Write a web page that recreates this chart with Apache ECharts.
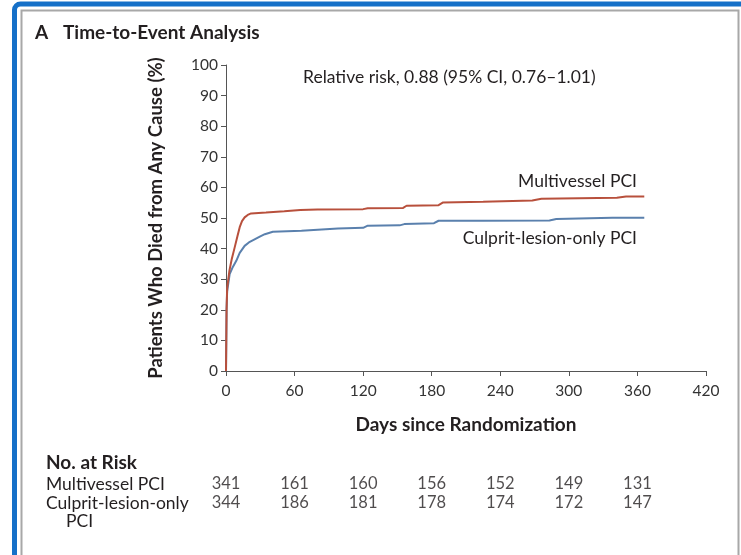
<!DOCTYPE html>
<html>
<head>
<meta charset="utf-8">
<style>
  html, body { margin: 0; padding: 0; background: #ffffff; }
  #chart { width: 741px; height: 555px; }
</style>
<script src="https://cdn.jsdelivr.net/npm/echarts@6/dist/echarts.min.js"></script>
</head>
<body>
<div id="chart"></div>
<script>
// Cumulative mortality, [day, percent]
const multivesselCurve = [
  [0, 0], [0.5, 20], [1, 27], [3, 32.8], [5, 36.5], [7.6, 40.4], [10, 44], [12, 47],
  [14, 49], [16.3, 50.2], [19, 51], [22, 51.5], [35, 51.8], [51, 52.2], [65, 52.6],
  [80, 52.8], [120, 52.9], [124, 53.2], [155, 53.3], [158, 54], [186, 54.2], [190, 55.1],
  [225, 55.3], [268, 55.7], [276, 56.3], [342, 56.6], [350, 57], [366, 57]
];
const culpritCurve = [
  [0, 0], [0.5, 20], [1, 26], [3.2, 31.7], [6, 34], [9, 36], [12, 38.6], [16.3, 40.9],
  [20, 42], [25, 43], [30, 44], [34, 44.7], [41, 45.5], [66, 45.8], [98, 46.6],
  [120, 46.8], [124, 47.5], [152, 47.6], [156, 48], [182, 48.3], [186, 49.1],
  [225, 49.1], [283, 49.2], [289, 49.7], [338, 50.1], [366, 50.1]
];

// Number at risk table
const riskDays = [0, 60, 120, 180, 240, 300, 360];
const riskMultivessel = [341, 161, 160, 156, 152, 149, 131];
const riskCulprit = [344, 186, 181, 178, 174, 172, 147];
const riskRows = ['Multivessel PCI', 'Culprit-lesion-only PCI'];

const FONT = 'Lato, "Noto Sans", sans-serif';
const INK = '#231f20';

const riskData = [];
riskDays.forEach((d, i) => {
  riskData.push([d, 0, riskMultivessel[i]]);
  riskData.push([d, 1, riskCulprit[i]]);
});

const chart = echarts.init(document.getElementById('chart'), null, { renderer: 'canvas' });

chart.setOption({
  backgroundColor: '#ffffff',
  animation: false,
  textStyle: { fontFamily: FONT },
  grid: [
    { left: 226, top: 65, right: 35, bottom: 184 },
    { left: 226, top: 474, right: 35, height: 38 }
  ],
  xAxis: [
    {
      gridIndex: 0, type: 'value', min: 0, max: 420, interval: 60,
      name: 'Days since Randomization', nameLocation: 'middle', nameGap: 44,
      nameTextStyle: { fontFamily: FONT, fontSize: 19, fontWeight: 'bold', color: INK },
      axisLine: { show: true, lineStyle: { color: '#555', width: 1 } },
      axisTick: { show: true, inside: false, length: 5, lineStyle: { color: '#555' } },
      axisLabel: { fontFamily: FONT, fontSize: 15.5, color: '#333', margin: 12 },
      splitLine: { show: false }
    },
    {
      gridIndex: 1, type: 'value', min: 0, max: 420, show: false
    }
  ],
  yAxis: [
    {
      gridIndex: 0, type: 'value', min: 0, max: 100, interval: 10,
      name: 'Patients Who Died from Any Cause (%)', nameLocation: 'middle', nameGap: 60,
      nameRotate: 90,
      nameTextStyle: { fontFamily: FONT, fontSize: 18.5, fontWeight: 'bold', color: INK },
      axisLine: { show: true, lineStyle: { color: '#555', width: 1 } },
      axisTick: { show: true, inside: false, length: 5, lineStyle: { color: '#555' } },
      axisLabel: { fontFamily: FONT, fontSize: 15.5, color: '#333', margin: 8 },
      splitLine: { show: false }
    },
    {
      gridIndex: 1, type: 'category', data: riskRows, inverse: true, show: false
    }
  ],
  series: [
    {
      name: 'Multivessel PCI', type: 'line', xAxisIndex: 0, yAxisIndex: 0,
      data: multivesselCurve, showSymbol: false, smooth: false,
      lineStyle: { color: '#b8503c', width: 2 }, z: 3
    },
    {
      name: 'Culprit-lesion-only PCI', type: 'line', xAxisIndex: 0, yAxisIndex: 0,
      data: culpritCurve, showSymbol: false, smooth: false,
      lineStyle: { color: '#5a80ad', width: 2 }, z: 2
    },
    {
      name: 'No. at Risk', type: 'scatter', xAxisIndex: 1, yAxisIndex: 1,
      data: riskData, symbolSize: 0, silent: true,
      label: {
        show: true, position: 'inside', formatter: p => String(p.value[2]),
        fontFamily: FONT, fontSize: 16.5, color: INK
      }
    }
  ],
  graphic: [
    // outer frame
    {
      type: 'rect', silent: true, z: 0,
      shape: { x: 14.5, y: 4, width: 760, height: 600, r: 6 },
      style: { fill: null, stroke: '#1570c8', lineWidth: 5 }
    },
    {
      type: 'rect', silent: true, z: 0,
      shape: { x: 21.5, y: 10.5, width: 717, height: 600 },
      style: { fill: null, stroke: '#a8a8a8', lineWidth: 2 }
    },
    // panel title
    {
      type: 'text', x: 35, y: 33,
      style: { text: 'A', font: 'bold 19px ' + FONT, fill: INK, verticalAlign: 'middle' }
    },
    {
      type: 'text', x: 63, y: 33,
      style: { text: 'Time-to-Event Analysis', font: 'bold 19px ' + FONT, fill: INK, verticalAlign: 'middle' }
    },
    // effect estimate
    {
      type: 'text', x: 303, y: 77,
      style: { text: 'Relative risk, 0.88 (95% CI, 0.76\u20131.01)', font: '17.5px ' + FONT, fill: INK, verticalAlign: 'middle' }
    },
    // curve labels
    {
      type: 'text', x: 637, y: 181,
      style: { text: 'Multivessel PCI', font: '17.5px ' + FONT, fill: INK, align: 'right', verticalAlign: 'middle' }
    },
    {
      type: 'text', x: 637, y: 238,
      style: { text: 'Culprit-lesion-only PCI', font: '17.5px ' + FONT, fill: INK, align: 'right', verticalAlign: 'middle' }
    },
    // risk table labels
    {
      type: 'text', x: 46, y: 463,
      style: { text: 'No. at Risk', font: 'bold 19px ' + FONT, fill: INK, verticalAlign: 'middle' }
    },
    {
      type: 'text', x: 46, y: 484,
      style: { text: 'Multivessel PCI', font: '17.5px ' + FONT, fill: INK, verticalAlign: 'middle' }
    },
    {
      type: 'text', x: 46, y: 503,
      style: { text: 'Culprit-lesion-only', font: '17.5px ' + FONT, fill: INK, verticalAlign: 'middle' }
    },
    {
      type: 'text', x: 66, y: 521,
      style: { text: 'PCI', font: '17.5px ' + FONT, fill: INK, verticalAlign: 'middle' }
    }
  ]
});
</script>
</body>
</html>
